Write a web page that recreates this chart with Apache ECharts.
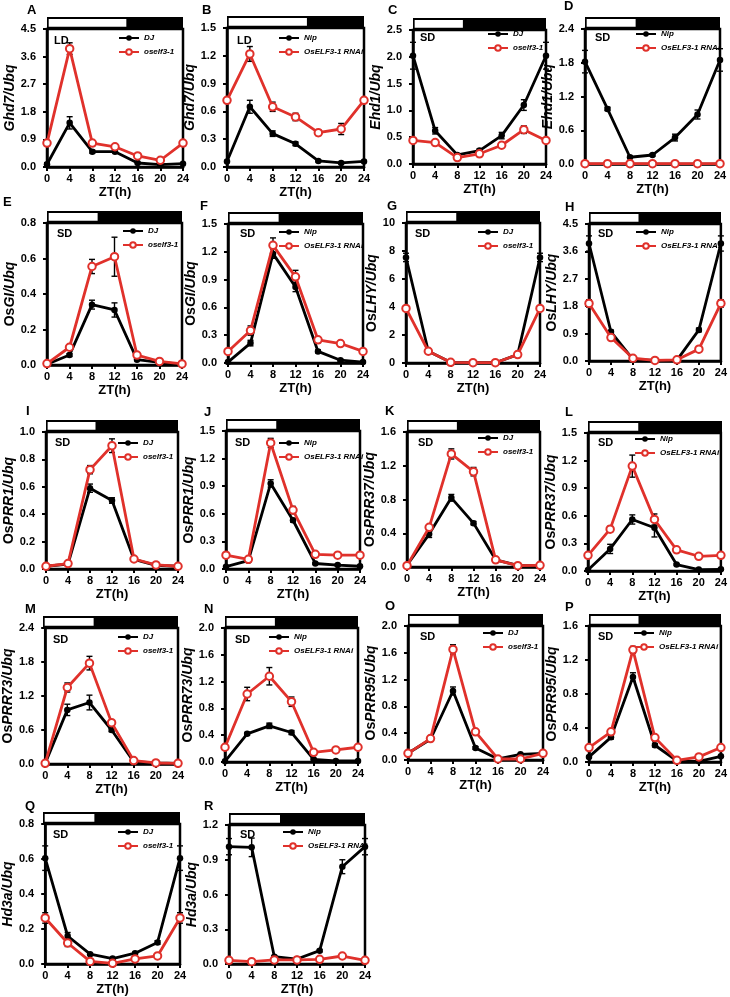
<!DOCTYPE html>
<html><head><meta charset="utf-8">
<script src="https://cdn.jsdelivr.net/npm/echarts@6/dist/echarts.min.js"></script>
<style>html,body{margin:0;padding:0;background:#fff}#c{width:730px;height:997px}</style>
</head><body><div id="c"></div>
<script>
// ---------- DATA ----------
const ztHours = [0, 4, 8, 12, 16, 20, 24];
const panelLetters = ['A','B','C','D','E','F','G','H','I','J','K','L','M','N','O','P','Q','R'];
const geneLabels = ['Ghd7/Ubq','Ghd7/Ubq','Ehd1/Ubq','Ehd1/Ubq','OsGI/Ubq','OsGI/Ubq','OsLHY/Ubq','OsLHY/Ubq',
  'OsPRR1/Ubq','OsPRR1/Ubq','OsPRR37/Ubq','OsPRR37/Ubq','OsPRR73/Ubq','OsPRR73/Ubq','OsPRR95/Ubq','OsPRR95/Ubq','Hd3a/Ubq','Hd3a/Ubq'];
const photoperiods = ['LD','LD','SD','SD','SD','SD','SD','SD','SD','SD','SD','SD','SD','SD','SD','SD','SD','SD'];
const lightHours = [14,14,9,9,9,9,9,9,9,9,9,9,9,9,9,9,9,9];
const wildTypeNames = ['DJ','Nip','DJ','Nip','DJ','Nip','DJ','Nip','DJ','Nip','DJ','Nip','DJ','Nip','DJ','Nip','DJ','Nip'];
const mutantNames = ['oself3-1','OsELF3-1 RNAi','oself3-1','OsELF3-1 RNAi','oself3-1','OsELF3-1 RNAi','oself3-1','OsELF3-1 RNAi',
  'oself3-1','OsELF3-1 RNAi','oself3-1','OsELF3-1 RNAi','oself3-1','OsELF3-1 RNAi','oself3-1','OsELF3-1 RNAi','oself3-1','OsELF3-1 RNAi'];
const yMaxes = [4.5,1.5,2.5,2.4,0.8,1.5,10,4.5,1.0,1.5,1.6,1.5,2.4,2.0,2.0,1.6,0.8,1.2];
const yIntervals = [0.9,0.3,0.5,0.6,0.2,0.3,2,0.9,0.2,0.3,0.4,0.3,0.6,0.4,0.4,0.4,0.2,0.3];
const yDecimals = [1,1,1,1,1,1,0,1,1,1,1,1,1,1,1,1,1,1];

const A_wt = [0.09,1.44,0.50,0.50,0.13,0.08,0.11];   const A_wtErr = [0.05,0.20,0.05,0.04,0.02,0.02,0.02];
const A_mut = [0.78,3.86,0.78,0.66,0.36,0.22,0.78];  const A_mutErr = [0.05,0.19,0.08,0.06,0.04,0.04,0.05];
const B_wt = [0.06,0.65,0.36,0.25,0.065,0.044,0.06]; const B_wtErr = [0.01,0.07,0.03,0.02,0.01,0.01,0.01];
const B_mut = [0.72,1.22,0.65,0.54,0.37,0.41,0.72];  const B_mutErr = [0.02,0.08,0.05,0.04,0.03,0.06,0.02];
const C_wt = [2.02,0.62,0.17,0.25,0.53,1.10,2.02];   const C_wtErr = [0.25,0.06,0.02,0.03,0.06,0.10,0.25];
const C_mut = [0.44,0.40,0.12,0.19,0.35,0.64,0.44];  const C_mutErr = [0.05,0.05,0.02,0.02,0.03,0.07,0.05];
const D_wt = [1.82,0.98,0.12,0.16,0.47,0.88,1.85];   const D_wtErr = [0.20,0.03,0.02,0.02,0.06,0.08,0.20];
const D_mut = [0.005,0.005,0.005,0.005,0.005,0.005,0.005]; const D_mutErr = [0,0,0,0,0,0,0];
const E_wt = [0.004,0.056,0.34,0.31,0.03,0.015,0.005]; const E_wtErr = [0.003,0.008,0.025,0.04,0.005,0.003,0.003];
const E_mut = [0.008,0.10,0.555,0.61,0.056,0.02,0.006]; const E_mutErr = [0.004,0.01,0.04,0.11,0.008,0.004,0.003];
const F_wt = [0.01,0.215,1.18,0.82,0.125,0.03,0.01];  const F_wtErr = [0.01,0.03,0.05,0.05,0.015,0.01,0.01];
const F_mut = [0.125,0.35,1.27,0.93,0.25,0.21,0.125]; const F_mutErr = [0.015,0.05,0.08,0.07,0.03,0.015,0.015];
const G_wt = [7.54,0.84,0.05,0.02,0.02,0.6,7.54];    const G_wtErr = [0.3,0.1,0.02,0.02,0.02,0.05,0.3];
const G_mut = [3.9,0.84,0.05,0.02,0.02,0.6,3.9];     const G_mutErr = [0.1,0.05,0.02,0.02,0.02,0.05,0.1];
const H_wt = [3.86,0.96,0.05,0.02,0.03,1.02,3.86];   const H_wtErr = [0.25,0.05,0.02,0.01,0.01,0.06,0.25];
const H_mut = [1.89,0.77,0.09,0.02,0.04,0.39,1.89];  const H_mutErr = [0.12,0.05,0.02,0.01,0.01,0.04,0.12];
const I_wt = [0.02,0.036,0.59,0.50,0.07,0.027,0.02]; const I_wtErr = [0.005,0.005,0.03,0.02,0.005,0.005,0.005];
const I_mut = [0.02,0.04,0.725,0.90,0.073,0.03,0.02]; const I_mutErr = [0.005,0.005,0.03,0.05,0.005,0.005,0.005];
const J_wt = [0.025,0.09,0.93,0.53,0.06,0.043,0.03]; const J_wtErr = [0.01,0.01,0.04,0.02,0.01,0.01,0.01];
const J_mut = [0.15,0.105,1.37,0.64,0.16,0.15,0.15]; const J_mutErr = [0.01,0.01,0.05,0.04,0.01,0.01,0.01];
const K_wt = [0.02,0.39,0.82,0.52,0.085,0.02,0.016]; const K_wtErr = [0.01,0.04,0.04,0.02,0.01,0.01,0.01];
const K_mut = [0.016,0.47,1.34,1.13,0.085,0.016,0.02]; const K_mutErr = [0.01,0.02,0.06,0.05,0.01,0.01,0.01];
const L_wt = [0.01,0.24,0.56,0.47,0.07,0.015,0.018]; const L_wtErr = [0.01,0.05,0.05,0.10,0.01,0.01,0.01];
const L_mut = [0.17,0.455,1.14,0.56,0.23,0.16,0.17]; const L_mutErr = [0.01,0.03,0.12,0.06,0.01,0.01,0.01];
const M_wt = [0.01,0.955,1.085,0.60,0.04,0.018,0.012]; const M_wtErr = [0.01,0.10,0.13,0.03,0.01,0.01,0.01];
const M_mut = [0.012,1.35,1.78,0.73,0.06,0.018,0.012]; const M_mutErr = [0.01,0.08,0.12,0.02,0.01,0.01,0.01];
const N_wt = [0.01,0.42,0.54,0.44,0.04,0.015,0.015]; const N_wtErr = [0.01,0.02,0.04,0.03,0.01,0.01,0.01];
const N_mut = [0.22,1.015,1.28,0.90,0.145,0.18,0.22]; const N_mutErr = [0.01,0.10,0.13,0.07,0.01,0.01,0.01];
const O_wt = [0.10,0.31,1.03,0.18,0.015,0.085,0.10]; const O_wtErr = [0.01,0.02,0.06,0.02,0.01,0.01,0.01];
const O_mut = [0.10,0.32,1.65,0.42,0.015,0.015,0.10]; const O_mutErr = [0.01,0.02,0.07,0.02,0.01,0.01,0.01];
const P_wt = [0.06,0.29,1.00,0.197,0.012,0.008,0.067]; const P_wtErr = [0.01,0.02,0.05,0.02,0.005,0.005,0.01];
const P_mut = [0.17,0.355,1.32,0.287,0.02,0.06,0.17]; const P_mutErr = [0.01,0.02,0.04,0.02,0.005,0.01,0.01];
const Q_wt = [0.605,0.16,0.056,0.031,0.062,0.123,0.605]; const Q_wtErr = [0.07,0.02,0.005,0.005,0.005,0.01,0.07];
const Q_mut = [0.263,0.12,0.015,0.004,0.029,0.046,0.263]; const Q_mutErr = [0.03,0.02,0.005,0.005,0.005,0.005,0.03];
const R_wt = [1.013,1.007,0.063,0.043,0.115,0.84,1.013]; const R_wtErr = [0.07,0.08,0.01,0.01,0.01,0.06,0.07];
const R_mut = [0.032,0.02,0.035,0.035,0.04,0.069,0.032]; const R_mutErr = [0,0,0,0,0,0,0];

const wtValues = [A_wt,B_wt,C_wt,D_wt,E_wt,F_wt,G_wt,H_wt,I_wt,J_wt,K_wt,L_wt,M_wt,N_wt,O_wt,P_wt,Q_wt,R_wt];
const wtErrors = [A_wtErr,B_wtErr,C_wtErr,D_wtErr,E_wtErr,F_wtErr,G_wtErr,H_wtErr,I_wtErr,J_wtErr,K_wtErr,L_wtErr,M_wtErr,N_wtErr,O_wtErr,P_wtErr,Q_wtErr,R_wtErr];
const mutValues = [A_mut,B_mut,C_mut,D_mut,E_mut,F_mut,G_mut,H_mut,I_mut,J_mut,K_mut,L_mut,M_mut,N_mut,O_mut,P_mut,Q_mut,R_mut];
const mutErrors = [A_mutErr,B_mutErr,C_mutErr,D_mutErr,E_mutErr,F_mutErr,G_mutErr,H_mutErr,I_mutErr,J_mutErr,K_mutErr,L_mutErr,M_mutErr,N_mutErr,O_mutErr,P_mutErr,Q_mutErr,R_mutErr];

// ---------- LAYOUT (left, top, right, bottom of each plot) ----------
const plotBoxes = [
  [47,29,183,167],[227,28,364,167],[413,30,546,164],[585,29,720,164],
  [47,223,182,365],[228,224,363,363],[406,223,540,363],[589,224,721,361],
  [46,432,178,569],[226,431,360,569],[407,432,540,567],[588,433,722,571],
  [43,628,178,764],[225,628,358,762],[408,626,543,760],[589,626,721,762],
  [43,824,180,964],[229,825,365,964]
];
const letterPos = [[27,4],[202,4],[388,4],[564,0],[3,196],[200,200],[387,200],[565,201],[26,405],[204,406],[385,405],[565,406],
  [25,603],[204,603],[385,600],[565,601],[25,800],[204,800]];
const legendPos = [[118,38],[278,38],[487,34],[635,34],[122,231],[278,232],[477,232],[635,232],[117,443],[278,443],[477,438],[634,439],
  [117,637],[268,637],[482,633],[633,633],[117,832],[282,832]];
const periodPos = [[54,41],[237,41],[420,38],[595,38],[57,234],[240,234],[415,234],[598,234],[55,443],[235,443],[418,443],[598,443],
  [53,640],[235,640],[420,637],[598,637],[53,835],[240,835]];

const FONT = '"Liberation Sans", Arial, sans-serif';
const RED = '#e0312b';

function richName(label) {
  return label.startsWith('Os') ? '{u|Os}{i|' + label.slice(2) + '}' : '{i|' + label + '}';
}

function renderErr(params, api) {
  const x = api.value(0), y = api.value(1), e = api.value(2);
  if (!e) return null;
  const t = api.coord([x, y + e]), b = api.coord([x, Math.max(0, y - e)]);
  const hw = 3, st = {stroke: '#000', lineWidth: 1.4};
  return {type: 'group', children: [
    {type: 'line', shape: {x1: t[0], y1: t[1], x2: b[0], y2: b[1]}, style: st},
    {type: 'line', shape: {x1: t[0] - hw, y1: t[1], x2: t[0] + hw, y2: t[1]}, style: st},
    {type: 'line', shape: {x1: b[0] - hw, y1: b[1], x2: b[0] + hw, y2: b[1]}, style: st}
  ]};
}

const option = {animation: false, backgroundColor: '#fff', grid: [], xAxis: [], yAxis: [], series: [], legend: [], graphic: []};

panelLetters.forEach((letter, i) => {
  const [l, t, r, b] = plotBoxes[i];
  const g = 2 * i;
  option.grid.push({left: l, top: t, width: r - l, height: b - t, show: true, borderColor: '#000', borderWidth: 2.5, backgroundColor: 'transparent'});
  option.grid.push({left: l, top: t - 12, width: r - l, height: 12});
  const dec = yDecimals[i];
  option.xAxis.push({
    gridIndex: g, type: 'value', min: 0, max: 24, interval: 4,
    axisLine: {show: true, onZero: false, lineStyle: {color: '#000', width: 2.5}},
    axisTick: {show: true, length: 4, lineStyle: {color: '#000', width: 2}},
    axisLabel: {color: '#000', fontFamily: FONT, fontWeight: 'bold', fontSize: 11, margin: 6},
    splitLine: {show: false},
    name: 'ZT(h)', nameLocation: 'middle', nameGap: 19,
    nameTextStyle: {color: '#000', fontFamily: FONT, fontWeight: 'bold', fontSize: 13}
  });
  const nameStyle = {color: '#000', fontFamily: FONT, fontWeight: 'bold', fontSize: 14};
  option.yAxis.push({
    gridIndex: g, type: 'value', min: 0, max: yMaxes[i], interval: yIntervals[i],
    axisLine: {show: true, lineStyle: {color: '#000', width: 2.5}},
    axisTick: {show: true, length: 4, lineStyle: {color: '#000', width: 2}},
    axisLabel: {color: '#000', fontFamily: FONT, fontWeight: 'bold', fontSize: 11, margin: 11,
      formatter: v => dec === 0 ? String(Math.round(v)) : v.toFixed(1)},
    splitLine: {show: false},
    name: richName(geneLabels[i]), nameLocation: 'middle', nameGap: 27, nameRotate: 90,
    nameTextStyle: Object.assign({}, nameStyle, {rich: {
      u: Object.assign({}, nameStyle, {fontStyle: 'normal'}),
      i: Object.assign({}, nameStyle, {fontStyle: 'italic'})
    }})
  });
  option.xAxis.push({gridIndex: g + 1, type: 'value', min: 0, max: 24, show: false});
  option.yAxis.push({gridIndex: g + 1, type: 'value', min: 0, max: 1, show: false});

  // light/dark bar
  option.series.push({
    type: 'line', xAxisIndex: g + 1, yAxisIndex: g + 1, data: [[0, 0.5]], showSymbol: false, symbolSize: 0,
    lineStyle: {opacity: 0}, silent: true,
    markArea: {silent: true, data: [
      [{coord: [0, 0], itemStyle: {color: '#000'}}, {coord: [24, 1]}],
      [{coord: [0.3, 0.18], itemStyle: {color: '#fff'}}, {coord: [lightHours[i], 0.84]}]
    ]}
  });
  // error bars
  [[wtValues[i], wtErrors[i]], [mutValues[i], mutErrors[i]]].forEach(([vals, errs]) => {
    option.series.push({
      type: 'custom', xAxisIndex: g, yAxisIndex: g, renderItem: renderErr, clip: false, silent: true, z: 1,
      encode: {x: 0, y: 1},
      data: ztHours.map((h, k) => [h, vals[k], errs[k]])
    });
  });
  option.series.push({
    type: 'line', name: wildTypeNames[i], xAxisIndex: g, yAxisIndex: g, clip: false, z: 3,
    data: ztHours.map((h, k) => [h, wtValues[i][k]]),
    symbol: 'circle', symbolSize: 6.5,
    lineStyle: {color: '#000', width: 2.8}, itemStyle: {color: '#000'}
  });
  option.series.push({
    type: 'line', name: mutantNames[i], xAxisIndex: g, yAxisIndex: g, clip: false, z: 4,
    data: ztHours.map((h, k) => [h, mutValues[i][k]]),
    symbol: 'emptyCircle', symbolSize: 7.5,
    lineStyle: {color: RED, width: 2.8}, itemStyle: {color: RED, borderColor: RED, borderWidth: 1.5}
  });
  option.legend.push({
    data: [wildTypeNames[i], mutantNames[i]], orient: 'vertical', left: legendPos[i][0], top: legendPos[i][1] - 4,
    padding: 0, itemGap: 6, itemWidth: 20, itemHeight: 7, itemTextGap: 3, selectedMode: false,
    textStyle: {color: '#000', fontFamily: FONT, fontWeight: 'bold', fontStyle: 'italic', fontSize: 8, lineHeight: 8}
  });
  option.graphic.push({type: 'text', left: letterPos[i][0], top: letterPos[i][1],
    style: {text: letter, font: 'bold 13px ' + FONT, fill: '#000'}});
  option.graphic.push({type: 'text', left: periodPos[i][0], top: periodPos[i][1] - 6,
    style: {text: photoperiods[i], font: 'bold 11px ' + FONT, fill: '#000'}});
});

const chart = echarts.init(document.getElementById('c'), null, {renderer: 'canvas'});
chart.setOption(option);
</script>
</body></html>
